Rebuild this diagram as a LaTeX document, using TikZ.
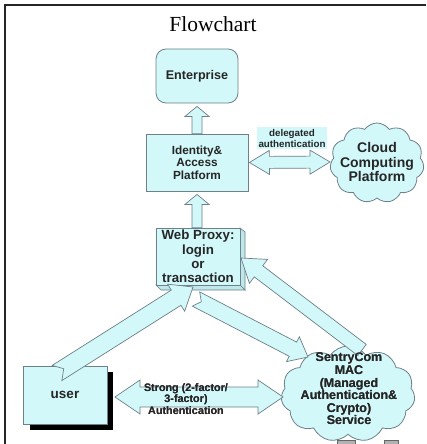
\documentclass[tikz,border=0pt]{standalone}
\usepackage{fontspec}
\setmainfont{Liberation Sans}
\newfontfamily\titlefont{Liberation Serif}
\usetikzlibrary{calc,shapes.symbols}
\definecolor{boxfill}{RGB}{210,248,250}
\definecolor{boxfilldark}{RGB}{190,232,236}
\definecolor{boxline}{RGB}{110,128,136}
\newcommand\blockarr[6]{% tail, tip, half shaft, half head, head length, notch
  \path (#1) coordinate (bT) (#2) coordinate (bH);
  \path ($(bH)!#5!(bT)$) coordinate (bB);
  \filldraw[barrowstyle] ($(bT)!#3!90:(bH)$) -- ($(bB)!#3!90:(bH)$) -- ($(bB)!#4!90:(bH)$)
    -- (bH) -- ($(bB)!#4!-90:(bH)$) -- ($(bB)!#3!-90:(bH)$) -- ($(bT)!#3!-90:(bH)$)
    -- ($(bT)!#6!(bH)$) -- cycle;
}
\newcommand\dblarr[5]{% end A, end B, half shaft, half head, head length
  \path (#1) coordinate (dA) (#2) coordinate (dB);
  \path ($(dA)!#5!(dB)$) coordinate (dAb) ($(dB)!#5!(dA)$) coordinate (dBb);
  \filldraw[barrowstyle] (dA) -- ($(dAb)!#4!90:(dB)$) -- ($(dAb)!#3!90:(dB)$)
    -- ($(dBb)!#3!-90:(dA)$) -- ($(dBb)!#4!-90:(dA)$) -- (dB)
    -- ($(dBb)!#4!90:(dA)$) -- ($(dBb)!#3!90:(dA)$)
    -- ($(dAb)!#3!-90:(dB)$) -- ($(dAb)!#4!-90:(dB)$) -- cycle;
}
\begin{document}
\begin{tikzpicture}[x=1pt,y=-1pt,
  box/.style={draw=boxline, fill=boxfill, line width=0.8pt, inner sep=0pt},
  cloudbox/.style={cloud, cloud puffs=11, cloud puff arc=110, draw=boxline, fill=boxfill, line width=0.8pt, inner sep=0pt},
  lbl/.style={font=\bfseries, align=center, inner sep=0pt, text=black!85},
  barrowstyle/.style={draw=boxline, fill=boxfill, line width=0.7pt, line join=miter}]
\useasboundingbox (0,0) rectangle (426,444);
\fill[white] (0,0) rectangle (426,444);
% frame
\draw[line width=1.3pt, black!85] (5,444) -- (5,5) -- (426,5);
% title
\node[font=\titlefont\fontsize{21.5}{24}\selectfont, inner sep=0pt] (title) at (213,24) {Flowchart};

% nodes
\node[box, rounded corners=10pt, minimum width=82pt, minimum height=54pt] (ent) at (197,76) {};
\node[lbl, font=\bfseries\fontsize{12.6}{14}\selectfont] (entt) at (ent) {Enterprise};

\node[box, minimum width=102pt, minimum height=57pt] (idn) at (197,162.5) {};
\node[lbl, font=\bfseries\fontsize{11.8}{12.3}\selectfont] (idnt) at (idn) {Identity\&\\Access\\Platform};

% web proxy with 3D faces
\coordinate (wNW) at (156,228);
\coordinate (wSE) at (240,285);
\filldraw[draw=boxline, fill=boxfilldark, line width=0.7pt] (240,228) -- (245,232) -- (245,290) -- (240,285) -- cycle;
\filldraw[draw=boxline, fill=boxfilldark, line width=0.7pt] (156,285) -- (240,285) -- (245,290) -- (161,290) -- cycle;
\node[box, minimum width=84pt, minimum height=57pt] (web) at (198,256.5) {};
\node[lbl, font=\bfseries\fontsize{13.3}{14.3}\selectfont] (webt) at (web) {Web Proxy:\\login\\or\\transaction};

% user with shadow
\fill[black] (30,372) rectangle (113,430);
\node[box, minimum width=84pt, minimum height=58pt] (usr) at (65,395) {};
\node[lbl, font=\bfseries\fontsize{13.5}{15}\selectfont] (usrt) at (usr) {user};

% clouds
\node[cloudbox, minimum width=94pt, minimum height=80pt, aspect=1.2] (ccp) at (377,163) {};
\node[lbl, font=\bfseries\fontsize{14}{14.5}\selectfont] (ccpt) at (377,162) {Cloud\\Computing\\Platform};

\node[cloudbox, minimum width=134pt, minimum height=96pt, aspect=1.4] (sen) at (348,394) {};
\node[lbl, font=\bfseries\fontsize{12.5}{12.6}\selectfont] (sent) at (349,389) {SentryCom\\MAC\\(Managed\\Authentication\&\\Crypto)\\Service};

% vertical arrows
\coordinate (a1t) at ($(idn.north)$);
\coordinate (a1h) at ($(ent.south)+(0,3)$);
\blockarr{a1t}{a1h}{5pt}{12pt}{10pt}{0pt}
\coordinate (a2t) at ($(web.north)+(-1,0)$);
\coordinate (a2h) at ($(idn.south)+(0,3)$);
\blockarr{a2t}{a2h}{5pt}{12pt}{10pt}{0pt}

% delegated double arrow
\coordinate (d1a) at ($(idn.east)+(1,0)$);
\coordinate (d1b) at (330,162);
\dblarr{d1a}{d1b}{6pt}{12pt}{20pt}
\node[lbl, fill=boxfill, inner sep=2pt, font=\bfseries\fontsize{9.8}{11}\selectfont] (dlbl) at (292,138) {delegated\\authentication};

% strong double arrow
\coordinate (s1a) at (115,397);
\coordinate (s1b) at (283,397);
\dblarr{s1a}{s1b}{10pt}{17pt}{25pt}
\node[lbl, font=\bfseries\fontsize{10.8}{11.5}\selectfont] (strt) at (186,399) {Strong (2-factor/\\3-factor)\\Authentication};

% diagonal arrows
\coordinate (bTail) at (196,299);
\coordinate (bTip) at (308,357);
\blockarr{bTail}{bTip}{8pt}{14pt}{17pt}{6pt}
\coordinate (aTail) at (57,373);
\coordinate (aTip) at (193,287);
\blockarr{aTail}{aTip}{9pt}{16pt}{20pt}{8pt}
\coordinate (cTail) at (362,350);
\coordinate (cTip) at (241,258);
\blockarr{cTail}{cTip}{7pt}{15pt}{22pt}{0pt}

% redraw texts on top where arrows overlap
\node[lbl, font=\bfseries\fontsize{12.5}{12.6}\selectfont] at (sent) {SentryCom\\MAC\\(Managed\\Authentication\&\\Crypto)\\Service};
\node[lbl, font=\bfseries\fontsize{10.8}{11.5}\selectfont] at (strt) {Strong (2-factor/\\3-factor)\\Authentication};

% bottom gray bits
\filldraw[draw=black!60, fill=black!30] (337,440) rectangle (355,446);
\filldraw[draw=black!60, fill=black!30] (384,440) rectangle (398,446);
\end{tikzpicture}
\end{document}
